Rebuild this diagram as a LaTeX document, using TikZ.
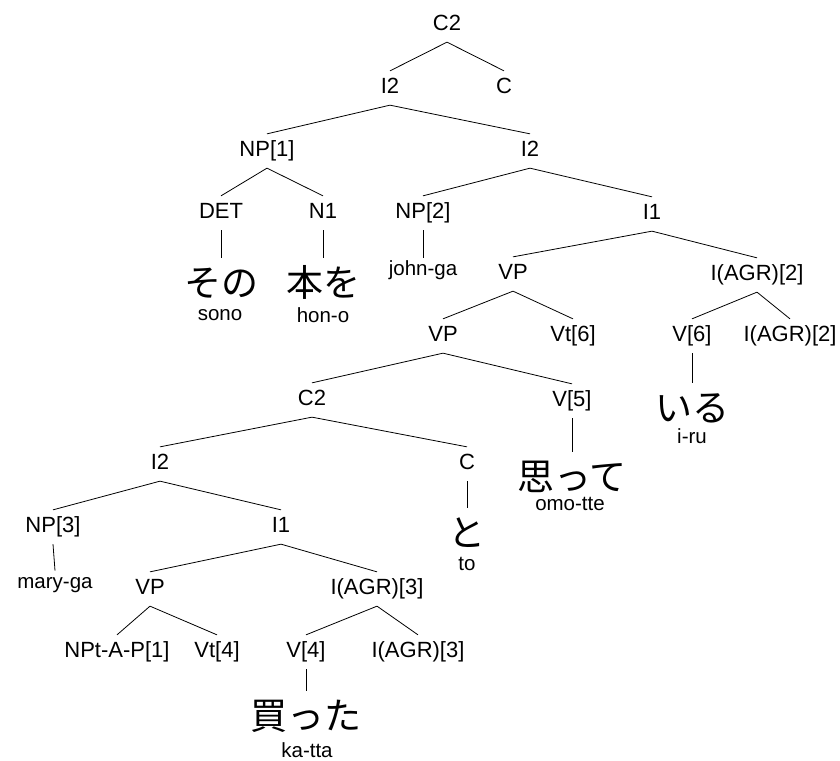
\documentclass[tikz,border=0pt]{standalone}
\usepackage{fontspec}
\setmainfont{Liberation Sans}
\newfontfamily\jpfont{Noto Sans CJK JP}

\begin{document}
\begin{tikzpicture}[
    x=1pt, y=-1pt,
    line width=0.8pt,
    cat/.style={font=\fontsize{22}{26}\selectfont, inner xsep=0pt, inner ysep=6pt, text height=16.5pt, text depth=5pt},
    kana/.style={font=\jpfont\fontsize{37}{41}\selectfont, inner xsep=0pt, inner ysep=6pt, text height=32pt, text depth=5pt},
    roma/.style={font=\fontsize{20.5}{24}\selectfont, inner xsep=0pt, inner ysep=3pt, text height=14pt, text depth=4pt}
 ]
\useasboundingbox (0,0) rectangle (840,760);

% upper clause
\node[cat] (c2a) at (447,25) {C2};
\node[cat] (i2a) at (390,88) {I2};
\node[cat] (ca) at (504,88) {C};
\node[cat] (np1) at (267,151) {NP[1]};
\node[cat] (i2b) at (530,151) {I2};
\node[cat] (det) at (221,213) {DET};
\node[cat] (n1) at (323,213) {N1};
\node[cat] (np2) at (423,213) {NP[2]};
\node[cat] (i1a) at (652,214) {I1};
\node[kana] (sono) at (221,283) {その};
\node[roma] (sonor) at (220,315) {sono};
\node[kana] (hono) at (323,283) {本を};
\node[roma] (honor) at (323,317) {hon-o};
\node[roma] (johnga) at (423,270) {john-ga};
\node[cat] (vpa) at (513,274) {VP};
\node[cat] (agra) at (757,275) {I(AGR)[2]};
\node[cat] (vpb) at (443,336) {VP};
\node[cat] (vtsix) at (573,336) {Vt[6]};
\node[cat] (vsix) at (692,336) {V[6]};
\node[cat] (agrb) at (790,336) {I(AGR)[2]};
\node[kana] (iru) at (692,408) {いる};
\node[roma] (irur) at (692,438) {i-ru};
\node[cat] (c2b) at (312,400) {C2};
\node[cat] (vfive) at (572,401) {V[5]};
\node[kana] (omotte) at (572,477) {思って};
\node[roma] (omotter) at (570,505) {omo-tte};

% embedded clause
\node[cat] (i2c) at (160,464) {I2};
\node[cat] (cb) at (467,464) {C};
\node[kana] (to) at (467,533) {と};
\node[roma] (tor) at (467,565) {to};
\node[cat] (npthree) at (53,527) {NP[3]};
\node[cat] (i1b) at (281,527) {I1};
\node[roma] (maryga) at (55,583) {mary-ga};
\node[cat] (vpc) at (150,589) {VP};
\node[cat] (agrc) at (377,589) {I(AGR)[3]};
\node[cat] (npt) at (117,652) {NPt-A-P[1]};
\node[cat] (vtfour) at (217,652) {Vt[4]};
\node[cat] (vfour) at (306,652) {V[4]};
\node[cat] (agrd) at (418,652) {I(AGR)[3]};
\node[kana] (katta) at (306,716) {買った};
\node[roma] (kattar) at (307,752) {ka-tta};

    \foreach \p/\c in {c2a/i2a, c2a/ca, i2a/np1, i2a/i2b, np1/det, np1/n1,
        i2b/np2, i2b/i1a, det/sono, n1/hono, np2/johnga, i1a/vpa, i1a/agra,
        vpa/vpb, vpa/vtsix, agra/vsix, agra/agrb, vsix/iru, vpb/c2b, vpb/vfive,
        vfive/omotte, c2b/i2c, c2b/cb, cb/to, i2c/npthree, i2c/i1b,
        npthree/maryga, i1b/vpc, i1b/agrc, vpc/npt, vpc/vtfour, agrc/vfour,
        agrc/agrd, vfour/katta} {
        \draw (\p.south) -- (\c.north);
    }

\end{tikzpicture}
\end{document}
